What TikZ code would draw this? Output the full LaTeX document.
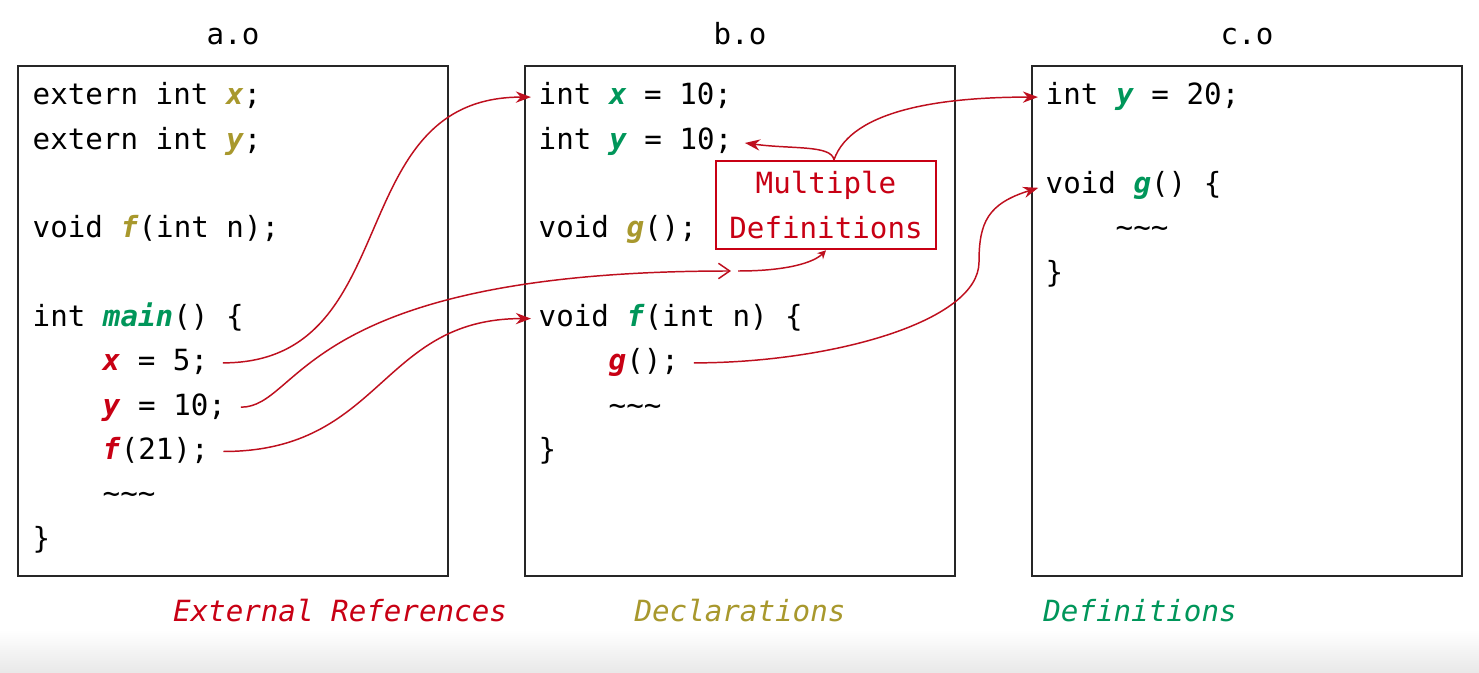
\documentclass[tikz,border=0pt]{standalone}
\usepackage{fontspec}
\newfontfamily\codefont{DejaVu Sans Mono}
\usetikzlibrary{arrows.meta,positioning}

\definecolor{extred}{RGB}{200,0,20}
\definecolor{declcol}{RGB}{168,152,45}
\definecolor{defcol}{RGB}{0,150,90}
\definecolor{linkred}{RGB}{190,15,30}
\newcommand{\extid}[1]{\textcolor{extred}{\textbf{\textit{#1}}}}
\newcommand{\declid}[1]{\textcolor{declcol}{\textbf{\textit{#1}}}}
\newcommand{\defid}[1]{\textcolor{defcol}{\textbf{\textit{#1}}}}
\newcommand{\squig}{\textasciitilde\textasciitilde\textasciitilde}

\begin{document}
\begin{tikzpicture}[x=0.01cm, y=0.01cm, >=Stealth,
  every node/.style={font=\codefont\fontsize{8.3pt}{12.6pt}\selectfont},
  codeline/.style={anchor=base west, inner sep=0pt, text height=6.2pt, text depth=1.7pt},
  objbox/.style={draw=black!85, line width=0.4pt, inner sep=0pt, minimum width=4.3cm, minimum height=5.1cm},
  objname/.style={inner sep=0pt},
  kindlbl/.style={anchor=base, inner sep=0pt, font=\codefont\itshape\fontsize{8.3pt}{12.6pt}\selectfont},
  mdbox/.style={draw=extred, line width=0.7pt, text=extred, align=center, inner sep=0pt, minimum width=2.2cm, minimum height=0.88cm},
  ref/.style={draw=linkred, line width=0.42pt, -{Stealth[length=4.3pt,width=3.2pt]}, shorten <=4pt, shorten >=2pt}]
\useasboundingbox (0,0) rectangle (1479,-673);
\fill[white] (0,0) rectangle (1479,-673);
\shade[top color=white, bottom color=black!9] (0,-630) rectangle (1479,-673);

% object files
\node[objbox] (abox) at (233,-321) {};
\node[objbox] (bbox) at (740,-321) {};
\node[objbox] (cbox) at (1247,-321) {};
\node[objname, above=0.2cm of abox] (atitle) {a.o};
\node[objname, above=0.2cm of bbox] (btitle) {b.o};
\node[objname, above=0.2cm of cbox] (ctitle) {c.o};

% a.o
\node[codeline] (a0) at (32,-105) {extern int \declid{x};};
\node[codeline] (a1) at (32,-149.3) {extern int \declid{y};};
\node[codeline] (a3) at (32,-237.9) {void \declid{f}(int n);};
\node[codeline] (a5) at (32,-326.5) {int \defid{main}() \{};
\node[codeline] (a6) at (102,-370.8) {\extid{x} = 5;};
\node[codeline] (a7) at (102,-415.1) {\extid{y} = 10;};
\node[codeline] (a8) at (102,-459.4) {\extid{f}(21);};
\node[codeline] (a9) at (102,-503.7) {\squig};
\node[codeline] (a10) at (32,-548) {\}};

% b.o
\node[codeline] (b0) at (538,-105) {int \defid{x} = 10;};
\node[codeline] (b1) at (538,-149.3) {int \defid{y} = 10;};
\node[codeline] (b3) at (538,-237.9) {void \declid{g}();};
\node[codeline] (b5) at (538,-326.5) {void \defid{f}(int n) \{};
\node[codeline] (b6) at (608,-370.8) {\extid{g}();};
\node[codeline] (b7) at (608,-415.1) {\squig};
\node[codeline] (b8) at (538,-459.4) {\}};

% c.o
\node[codeline] (c0) at (1045,-105) {int \defid{y} = 20;};
\node[codeline] (c2) at (1045,-193.6) {void \defid{g}() \{};
\node[codeline] (c3) at (1115,-237.9) {\squig};
\node[codeline] (c4) at (1045,-282.2) {\}};

\node[mdbox] (md) at (826,-205) {Multiple\\Definitions};

% legend
\node[kindlbl, text=extred] (extlbl) at (340,-621) {External References};
\node[kindlbl, text=declcol] (decllbl) at (740,-621) {Declarations};
\node[kindlbl, text=defcol] (deflbl) at (1140,-621) {Definitions};

% references
\coordinate (mdin) at (738,-271);
\coordinate (gbend) at (979,-262);
\draw[ref] (a6.east) to[out=0, in=180, looseness=1.2] (b0.west);
\draw[ref, -{Straight Barb[length=3.2pt,width=4.4pt]}] (a7.east) .. controls +(75,0) and +(-440,0) .. (mdin);
\draw[ref, shorten <=0pt, shorten >=0pt, -{Stealth[length=2.4pt,width=2.4pt]}] (mdin) .. controls +(50,0) and +(-12,-12) .. (md.south);
\draw[ref] (a8.east) .. controls +(173,0) and +(-158,0) .. (b5.west);
\draw[ref] (b6.east) .. controls +(150,0) and +(0,-60) .. (gbend) .. controls +(0,40) and +(-57,-18) .. (c2.west);
\draw[ref, shorten <=0pt, shorten >=3.4pt] (md.80) .. controls +(-3,15) and +(60,-8) .. (b1.east);
\draw[ref, shorten <=0pt] (md.80) .. controls +(18,51) and +(-100,0) .. (c0.west);
\end{tikzpicture}
\end{document}
